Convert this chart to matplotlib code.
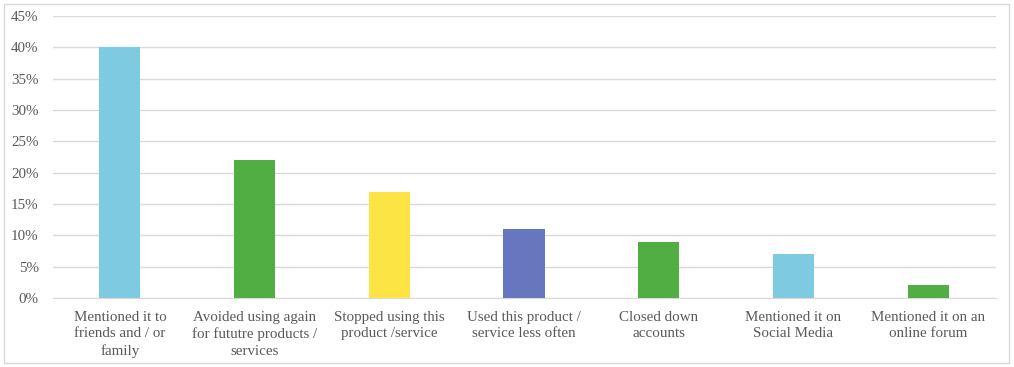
import numpy as np
import matplotlib
matplotlib.use('Agg')
import matplotlib.pyplot as plt
from matplotlib.patches import Rectangle

plt.rcParams['font.family'] = ['Liberation Serif', 'DejaVu Serif']

categories = ['Mentioned it to\nfriends and / or\nfamily',
              'Avoided using again\nfor fututre products /\nservices',
              'Stopped using this\nproduct /service',
              'Used this product /\nservice less often',
              'Closed down\naccounts',
              'Mentioned it on\nSocial Media',
              'Mentioned it on an\nonline forum']
values = [40, 22, 17, 11, 9, 7, 2]
colors = ['#7ECBE1', '#50AE42', '#FCE444', '#6677C0', '#50AE42', '#7ECBE1', '#50AE42']
yticks = [0, 5, 10, 15, 20, 25, 30, 35, 40, 45]

fig = plt.figure(figsize=(10.14, 3.67), dpi=100)
ax = fig.add_axes([0.0518, 0.188, 0.93, 0.768])

x = np.arange(len(categories))
ax.bar(x, values, width=0.305, color=colors, zorder=3)

ax.set_xlim(-0.5, len(categories) - 0.5)
ax.set_ylim(0, 45)
ax.set_yticks(yticks)
ax.set_yticklabels([f'{t}%' for t in yticks])
ax.set_xticks(x)
ax.set_xticklabels(categories, linespacing=1.35)

ax.grid(axis='y', color='#D9D9D9', linewidth=1, zorder=0)
for s in ['top', 'right', 'left']:
    ax.spines[s].set_visible(False)
ax.spines['bottom'].set_color('#D9D9D9')
ax.tick_params(axis='both', length=0, colors='#595959', labelsize=10.8)
ax.tick_params(axis='x', pad=9)
ax.tick_params(axis='y', pad=10)

fig.patches.append(Rectangle((0.004, 0.012), 0.991, 0.976, transform=fig.transFigure,
                             fill=False, edgecolor='#D9D9D9', linewidth=1))

fig.savefig('out.png', dpi=100)
